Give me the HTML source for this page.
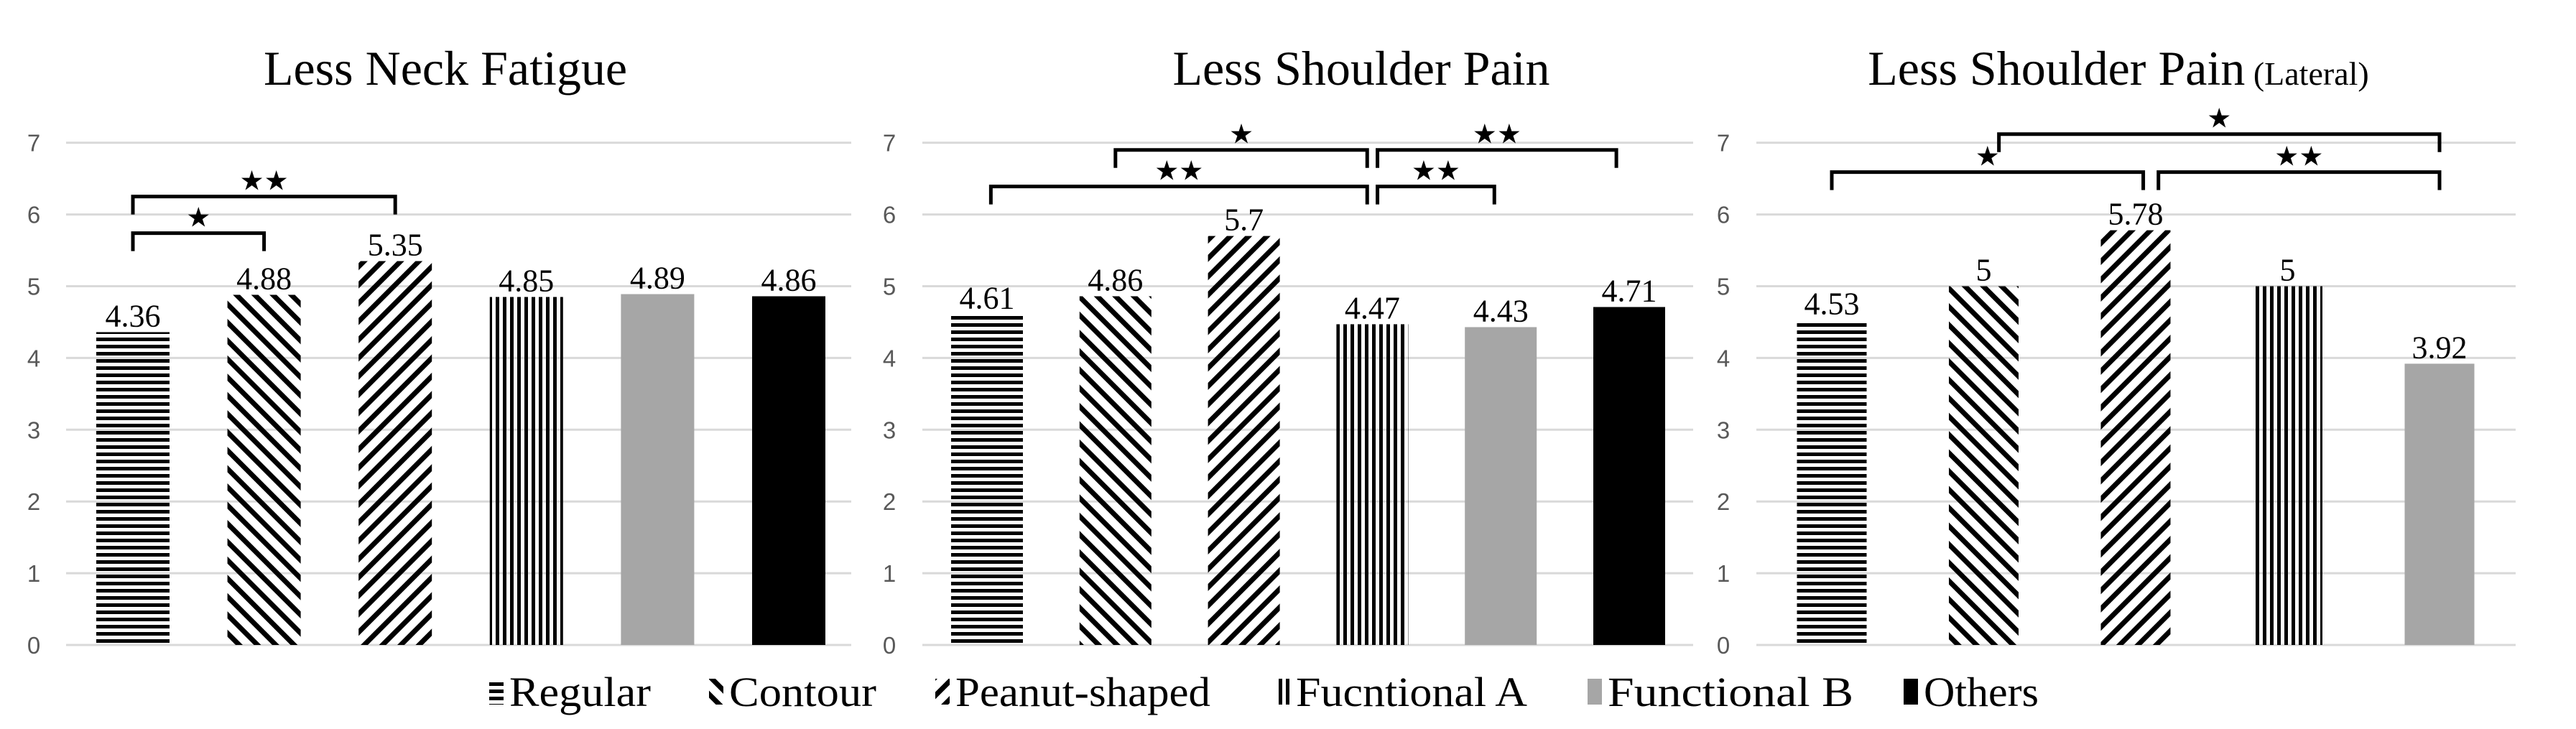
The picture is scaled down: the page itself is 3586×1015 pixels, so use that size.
<!DOCTYPE html>
<html><head><meta charset="utf-8"><style>
html,body{margin:0;padding:0;background:#fff;}
svg{display:block;}
</style></head><body>
<svg id="chart" width="3586" height="1015" viewBox="0 0 3586 1015" xmlns="http://www.w3.org/2000/svg">
<defs>
<pattern id="pH" patternUnits="userSpaceOnUse" width="10" height="10"><rect width="10" height="5" fill="#000"/></pattern>
<pattern id="pC" patternUnits="userSpaceOnUse" width="18" height="18" patternTransform="rotate(45)"><rect width="18" height="7" fill="#000"/></pattern>
<pattern id="pP" patternUnits="userSpaceOnUse" width="18" height="18" patternTransform="rotate(-45)"><rect width="18" height="7" fill="#000"/></pattern>
<pattern id="pV" patternUnits="userSpaceOnUse" width="10" height="10"><rect width="5" height="10" fill="#000"/></pattern>
</defs>
<g id="root"></g>
</svg>
<script>
const categories = ["Regular","Contour","Peanut-shaped","Fucntional A","Functional B","Others"];
const neckValues = [4.36,4.88,5.35,4.85,4.89,4.86];
const shoulderValues = [4.61,4.86,5.7,4.47,4.43,4.71];
const lateralValues = [4.53,5,5.78,5,3.92];
const neckLabels = ["4.36","4.88","5.35","4.85","4.89","4.86"];
const shoulderLabels = ["4.61","4.86","5.7","4.47","4.43","4.71"];
const lateralLabels = ["4.53","5","5.78","5","3.92"];
const yTicks = [0,1,2,3,4,5,6,7];
// significance brackets: [fromIndex, toIndex, level(y value), stars]
const neckSig = [[0,2,6.25,"★★"],[0,1,5.74,"★"]];
const shoulderSig = [[1,2.96,6.9,"★"],[3.04,4.9,6.9,"★★"],[0.03,2.96,6.39,"★★"],[3.04,3.95,6.39,"★★"]];
const lateralSig = [[1.1,4,7.12,"★"],[0,2.05,6.59,"★"],[2.15,4,6.59,"★★"]];

const NS="http://www.w3.org/2000/svg";
const root=document.getElementById('root');
const fills=["url(#pH)","url(#pC)","url(#pP)","url(#pV)","#a6a6a6","#000"];
function mk(tag,attrs,parent){const e=document.createElementNS(NS,tag);for(const k in attrs)e.setAttribute(k,attrs[k]);(parent||root).appendChild(e);return e;}
const Y0=898, UNIT=99.9;
function yScale(v){return Y0-v*UNIT;}

const charts=[
 {name:"neck",title:"Less Neck Fatigue",sub:"",tcx:620,vals:neckValues,labels:neckLabels,sig:neckSig,x0:185,step:182.6,bw:102,gx0:92,gx1:1185,tickX:47},
 {name:"shoulder",title:"Less Shoulder Pain",sub:"",tcx:1895,vals:shoulderValues,labels:shoulderLabels,sig:shoulderSig,x0:1374,step:178.8,bw:100,gx0:1284,gx1:2357,tickX:1238},
 {name:"lateral",title:"Less Shoulder Pain",sub:" (Lateral)",tcx:2949,vals:lateralValues,labels:lateralLabels,sig:lateralSig,x0:2550,step:211.5,bw:97,gx0:2445,gx1:3502,tickX:2399}
];
charts.forEach(c=>{
 const g=mk('g',{});
 
 
 const xS=i=>c.x0+i*c.step;
 yTicks.forEach(t=>{
  const l=mk('line',{x1:c.gx0,x2:c.gx1,y1:yScale(t),y2:yScale(t),stroke:"#d9d9d9","stroke-width":3},g);
  
  
  const tx=mk('text',{x:c.tickX,y:yScale(t)+12,"text-anchor":"middle","font-family":"Liberation Sans, sans-serif","font-size":33,fill:"#595959"},g);
  tx.textContent=t;
  
  
 });
 const tt=mk('text',{x:c.tcx,y:118,"text-anchor":"middle","font-family":"Liberation Serif, serif","font-size":68,fill:"#000"},g);
 tt.textContent=c.title;
 if(c.sub){const ts=mk('tspan',{"font-size":46},tt);ts.textContent=c.sub;}
 
 
 c.vals.forEach((v,i)=>{
  const cx=xS(i);
  const r=mk('rect',{x:cx-c.bw/2,y:yScale(v),width:c.bw,height:Y0-yScale(v),fill:fills[i]},g);
  
  
  const lb=mk('text',{x:cx,y:yScale(v)-8,"text-anchor":"middle","font-family":"Liberation Serif, serif","font-size":44,fill:"#000"},g);
  lb.textContent=c.labels[i];
  
  
 });
 c.sig.forEach(s=>{
  const xa=xS(s[0]),xb=xS(s[1]),yy=yScale(s[2]);
  const p=mk('path',{d:`M${xa},${yy+25}V${yy}H${xb}V${yy+25}`,fill:"none",stroke:"#000","stroke-width":5},g);
  
  
  const st=mk('text',{x:(xa+xb)/2,y:yy-9,"text-anchor":"middle","font-family":"DejaVu Sans, sans-serif","font-size":38,fill:"#000"},g);
  st.textContent=s[3];
  
  
 });
});
// legend
const legX=[681,987,1302,1776,2210,2650];
const legW=[197,205,355,322,342,160];
const lg=mk('g',{});


categories.forEach((n,i)=>{
 const e=mk('g',{},lg);
 
 
 mk('rect',{x:legX[i],y:945,width:20,height:36,fill:fills[i]},e);
 const t=mk('text',{x:legX[i]+28,y:983,"font-family":"Liberation Serif, serif","font-size":58,fill:"#000",textLength:legW[i],lengthAdjust:"spacingAndGlyphs"},e);
 t.textContent=n;
});
</script>
</body></html>
